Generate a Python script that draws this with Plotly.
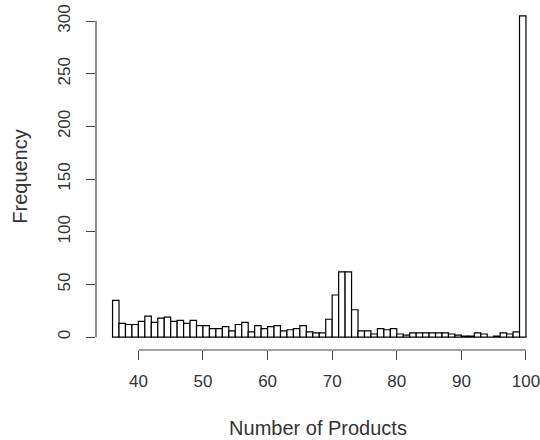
import plotly.graph_objects as go

bin_starts = list(range(36, 100))
counts = [35, 13, 12, 12, 15, 20, 14, 18, 19, 15,
          16, 13, 16, 11, 11, 8, 8, 10, 6, 12,
          14, 5, 11, 8, 10, 11, 6, 7, 8, 11,
          5, 4, 4, 17, 40, 62, 62, 26, 6, 6,
          3, 8, 7, 8, 3, 2, 4, 4, 4, 4,
          4, 4, 3, 2, 1, 1, 4, 3, 0, 1,
          4, 3, 5, 305]
x_ticks = [40, 50, 60, 70, 80, 90, 100]
y_ticks = [0, 50, 100, 150, 200, 250, 300]

centers = [b + 0.5 for b in bin_starts]
font = dict(family="Liberation Sans, Arial, sans-serif", size=17, color="#333")

fig = go.Figure(go.Bar(
    x=centers, y=counts, width=1,
    marker=dict(color="white", line=dict(color="black", width=1.2)),
))

xmin, xmax = bin_starts[0], bin_starts[-1] + 1
ymax = max(counts)
fig.update_layout(
    width=540, height=440,
    margin=dict(l=96, r=0, t=3, b=90),
    paper_bgcolor="white", plot_bgcolor="white",
    font=font, showlegend=False,
    xaxis=dict(range=[xmin - 0.04 * (xmax - xmin), 102.17], tickvals=x_ticks,
               ticks="outside", ticklen=9, tickcolor="#444", tickwidth=1.2,
               ticklabelstandoff=7, ticklabeloverflow="allow",
               showgrid=False, zeroline=False, showline=False,
               title=dict(text="Number of Products", standoff=30), tickfont=font),
    yaxis=dict(range=[-0.04 * ymax, ymax * 1.04], tickvals=y_ticks, tickangle=-90,
               ticks="outside", ticklen=9, tickcolor="#444", tickwidth=1.2,
               ticklabelstandoff=9, ticklabeloverflow="allow",
               showgrid=False, zeroline=False, showline=False,
               title=dict(text="Frequency", standoff=22), tickfont=font),
    shapes=[
        dict(type="line", xref="x", yref="paper", x0=x_ticks[0], x1=x_ticks[-1], y0=0, y1=0,
             line=dict(color="#444", width=1.2)),
        dict(type="line", xref="paper", yref="y", x0=0, x1=0, y0=y_ticks[0], y1=y_ticks[-1],
             line=dict(color="#444", width=1.2)),
    ],
)
fig.write_html("out.html")
